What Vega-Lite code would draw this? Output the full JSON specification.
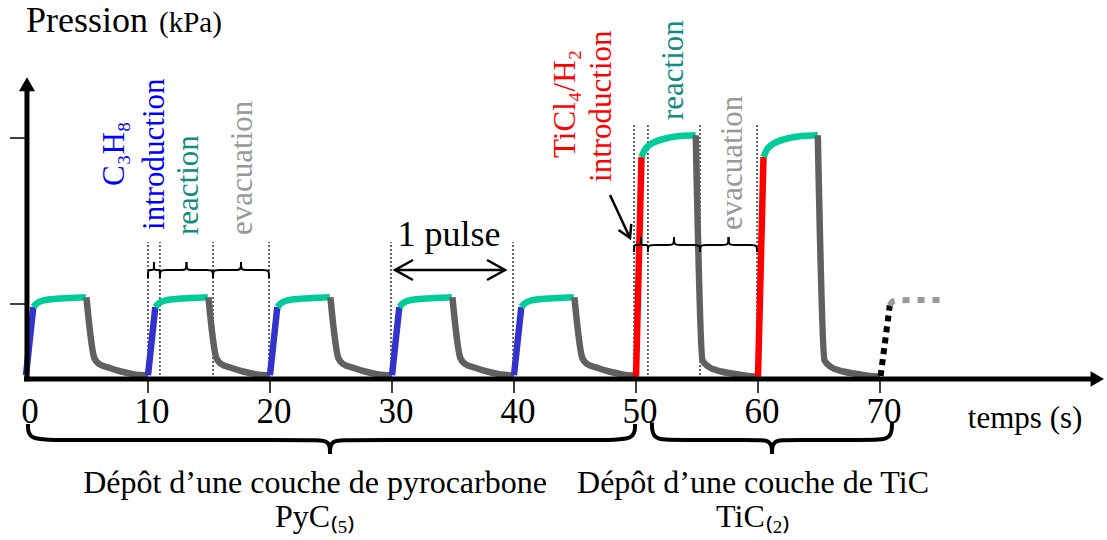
{
  "$schema": "https://vega.github.io/schema/vega-lite/v6.json",
  "width": 1107,
  "height": 540,
  "autosize": {"type": "fit", "contains": "padding"},
  "padding": 0,
  "background": "white",
  "config": {"view": {"stroke": null}, "text": {"font": "Liberation Serif"}},
  "encoding": {
    "x": {"field": "t", "type": "quantitative", "scale": {"domain": [-2.1311, 88.6066], "nice": false, "zero": false}, "axis": null},
    "y": {"field": "y", "type": "quantitative", "scale": {"domain": [-2.1467, 5.0533], "nice": false, "zero": false}, "axis": null}
  },
  "layer": [
    {
      "data": {"values": [
        {"t": 10.0, "y": 0, "y2": 1.827}, {"t": 10.98, "y": 0, "y2": 1.827}, {"t": 15.33, "y": 0, "y2": 1.827}, {"t": 19.92, "y": 0, "y2": 1.827},
        {"t": 29.92, "y": 0, "y2": 1.827}, {"t": 39.92, "y": 0, "y2": 1.827},
        {"t": 49.84, "y": 0, "y2": 3.413}, {"t": 50.98, "y": 0, "y2": 3.413}, {"t": 55.25, "y": 0, "y2": 3.413}, {"t": 59.92, "y": 0, "y2": 3.413}
      ]},
      "mark": {"type": "rule", "color": "black", "strokeWidth": 1.2, "strokeDash": [2, 2]},
      "encoding": {"y2": {"field": "y2"}}
    },
    {
      "data": {"values": [
        {"seg": "b0", "ph": "C3H8", "i": 0, "t": 0, "y": 0.05}, {"seg": "b0", "ph": "C3H8", "i": 1, "t": 0.6, "y": 0.96},
        {"seg": "g0", "ph": "reaction", "i": 0, "t": 0.6, "y": 0.96}, {"seg": "g0", "ph": "reaction", "i": 1, "t": 0.9, "y": 1.01}, {"seg": "g0", "ph": "reaction", "i": 2, "t": 1.5, "y": 1.05}, {"seg": "g0", "ph": "reaction", "i": 3, "t": 2.5, "y": 1.07}, {"seg": "g0", "ph": "reaction", "i": 4, "t": 3.5, "y": 1.08}, {"seg": "g0", "ph": "reaction", "i": 5, "t": 4.9, "y": 1.09},
        {"seg": "k0", "ph": "evacuation", "i": 0, "t": 4.95, "y": 1.09}, {"seg": "k0", "ph": "evacuation", "i": 1, "t": 5.6, "y": 0.28}, {"seg": "k0", "ph": "evacuation", "i": 2, "t": 6.0, "y": 0.2}, {"seg": "k0", "ph": "evacuation", "i": 3, "t": 6.8, "y": 0.15}, {"seg": "k0", "ph": "evacuation", "i": 4, "t": 7.8, "y": 0.1}, {"seg": "k0", "ph": "evacuation", "i": 5, "t": 8.8, "y": 0.065}, {"seg": "k0", "ph": "evacuation", "i": 6, "t": 10, "y": 0.045},

        {"seg": "b1", "ph": "C3H8", "i": 0, "t": 10, "y": 0.05}, {"seg": "b1", "ph": "C3H8", "i": 1, "t": 10.6, "y": 0.96},
        {"seg": "g1", "ph": "reaction", "i": 0, "t": 10.6, "y": 0.96}, {"seg": "g1", "ph": "reaction", "i": 1, "t": 10.9, "y": 1.01}, {"seg": "g1", "ph": "reaction", "i": 2, "t": 11.5, "y": 1.05}, {"seg": "g1", "ph": "reaction", "i": 3, "t": 12.5, "y": 1.07}, {"seg": "g1", "ph": "reaction", "i": 4, "t": 13.5, "y": 1.08}, {"seg": "g1", "ph": "reaction", "i": 5, "t": 14.9, "y": 1.09},
        {"seg": "k1", "ph": "evacuation", "i": 0, "t": 14.95, "y": 1.09}, {"seg": "k1", "ph": "evacuation", "i": 1, "t": 15.6, "y": 0.28}, {"seg": "k1", "ph": "evacuation", "i": 2, "t": 16.0, "y": 0.2}, {"seg": "k1", "ph": "evacuation", "i": 3, "t": 16.8, "y": 0.15}, {"seg": "k1", "ph": "evacuation", "i": 4, "t": 17.8, "y": 0.1}, {"seg": "k1", "ph": "evacuation", "i": 5, "t": 18.8, "y": 0.065}, {"seg": "k1", "ph": "evacuation", "i": 6, "t": 20, "y": 0.045},

        {"seg": "b2", "ph": "C3H8", "i": 0, "t": 20, "y": 0.05}, {"seg": "b2", "ph": "C3H8", "i": 1, "t": 20.6, "y": 0.96},
        {"seg": "g2", "ph": "reaction", "i": 0, "t": 20.6, "y": 0.96}, {"seg": "g2", "ph": "reaction", "i": 1, "t": 20.9, "y": 1.01}, {"seg": "g2", "ph": "reaction", "i": 2, "t": 21.5, "y": 1.05}, {"seg": "g2", "ph": "reaction", "i": 3, "t": 22.5, "y": 1.07}, {"seg": "g2", "ph": "reaction", "i": 4, "t": 23.5, "y": 1.08}, {"seg": "g2", "ph": "reaction", "i": 5, "t": 24.9, "y": 1.09},
        {"seg": "k2", "ph": "evacuation", "i": 0, "t": 24.95, "y": 1.09}, {"seg": "k2", "ph": "evacuation", "i": 1, "t": 25.6, "y": 0.28}, {"seg": "k2", "ph": "evacuation", "i": 2, "t": 26.0, "y": 0.2}, {"seg": "k2", "ph": "evacuation", "i": 3, "t": 26.8, "y": 0.15}, {"seg": "k2", "ph": "evacuation", "i": 4, "t": 27.8, "y": 0.1}, {"seg": "k2", "ph": "evacuation", "i": 5, "t": 28.8, "y": 0.065}, {"seg": "k2", "ph": "evacuation", "i": 6, "t": 30, "y": 0.045},

        {"seg": "b3", "ph": "C3H8", "i": 0, "t": 30, "y": 0.05}, {"seg": "b3", "ph": "C3H8", "i": 1, "t": 30.6, "y": 0.96},
        {"seg": "g3", "ph": "reaction", "i": 0, "t": 30.6, "y": 0.96}, {"seg": "g3", "ph": "reaction", "i": 1, "t": 30.9, "y": 1.01}, {"seg": "g3", "ph": "reaction", "i": 2, "t": 31.5, "y": 1.05}, {"seg": "g3", "ph": "reaction", "i": 3, "t": 32.5, "y": 1.07}, {"seg": "g3", "ph": "reaction", "i": 4, "t": 33.5, "y": 1.08}, {"seg": "g3", "ph": "reaction", "i": 5, "t": 34.9, "y": 1.09},
        {"seg": "k3", "ph": "evacuation", "i": 0, "t": 34.95, "y": 1.09}, {"seg": "k3", "ph": "evacuation", "i": 1, "t": 35.6, "y": 0.28}, {"seg": "k3", "ph": "evacuation", "i": 2, "t": 36.0, "y": 0.2}, {"seg": "k3", "ph": "evacuation", "i": 3, "t": 36.8, "y": 0.15}, {"seg": "k3", "ph": "evacuation", "i": 4, "t": 37.8, "y": 0.1}, {"seg": "k3", "ph": "evacuation", "i": 5, "t": 38.8, "y": 0.065}, {"seg": "k3", "ph": "evacuation", "i": 6, "t": 40, "y": 0.045},

        {"seg": "b4", "ph": "C3H8", "i": 0, "t": 40, "y": 0.05}, {"seg": "b4", "ph": "C3H8", "i": 1, "t": 40.6, "y": 0.96},
        {"seg": "g4", "ph": "reaction", "i": 0, "t": 40.6, "y": 0.96}, {"seg": "g4", "ph": "reaction", "i": 1, "t": 40.9, "y": 1.01}, {"seg": "g4", "ph": "reaction", "i": 2, "t": 41.5, "y": 1.05}, {"seg": "g4", "ph": "reaction", "i": 3, "t": 42.5, "y": 1.07}, {"seg": "g4", "ph": "reaction", "i": 4, "t": 43.5, "y": 1.08}, {"seg": "g4", "ph": "reaction", "i": 5, "t": 44.9, "y": 1.09},
        {"seg": "k4", "ph": "evacuation", "i": 0, "t": 44.95, "y": 1.09}, {"seg": "k4", "ph": "evacuation", "i": 1, "t": 45.6, "y": 0.28}, {"seg": "k4", "ph": "evacuation", "i": 2, "t": 46.0, "y": 0.2}, {"seg": "k4", "ph": "evacuation", "i": 3, "t": 46.8, "y": 0.15}, {"seg": "k4", "ph": "evacuation", "i": 4, "t": 47.8, "y": 0.1}, {"seg": "k4", "ph": "evacuation", "i": 5, "t": 48.8, "y": 0.065}, {"seg": "k4", "ph": "evacuation", "i": 6, "t": 50, "y": 0.04},

        {"seg": "r5", "ph": "TiCl4", "i": 0, "t": 50, "y": 0.03}, {"seg": "r5", "ph": "TiCl4", "i": 1, "t": 50.45, "y": 2.96},
        {"seg": "g5", "ph": "reaction", "i": 0, "t": 50.45, "y": 2.96}, {"seg": "g5", "ph": "reaction", "i": 1, "t": 50.7, "y": 3.05}, {"seg": "g5", "ph": "reaction", "i": 2, "t": 51.1, "y": 3.12}, {"seg": "g5", "ph": "reaction", "i": 3, "t": 52.5, "y": 3.21}, {"seg": "g5", "ph": "reaction", "i": 4, "t": 53.7, "y": 3.24}, {"seg": "g5", "ph": "reaction", "i": 5, "t": 54.9, "y": 3.25},
        {"seg": "k5", "ph": "evacuation", "i": 0, "t": 54.9, "y": 3.25}, {"seg": "k5", "ph": "evacuation", "i": 1, "t": 55.45, "y": 0.25}, {"seg": "k5", "ph": "evacuation", "i": 2, "t": 55.9, "y": 0.17}, {"seg": "k5", "ph": "evacuation", "i": 3, "t": 57.0, "y": 0.1}, {"seg": "k5", "ph": "evacuation", "i": 4, "t": 58.0, "y": 0.07}, {"seg": "k5", "ph": "evacuation", "i": 5, "t": 59.0, "y": 0.045}, {"seg": "k5", "ph": "evacuation", "i": 6, "t": 60, "y": 0.03},

        {"seg": "r6", "ph": "TiCl4", "i": 0, "t": 60, "y": 0.03}, {"seg": "r6", "ph": "TiCl4", "i": 1, "t": 60.45, "y": 2.96},
        {"seg": "g6", "ph": "reaction", "i": 0, "t": 60.45, "y": 2.96}, {"seg": "g6", "ph": "reaction", "i": 1, "t": 60.7, "y": 3.05}, {"seg": "g6", "ph": "reaction", "i": 2, "t": 61.1, "y": 3.12}, {"seg": "g6", "ph": "reaction", "i": 3, "t": 62.5, "y": 3.21}, {"seg": "g6", "ph": "reaction", "i": 4, "t": 63.7, "y": 3.24}, {"seg": "g6", "ph": "reaction", "i": 5, "t": 64.9, "y": 3.25},
        {"seg": "k6", "ph": "evacuation", "i": 0, "t": 64.9, "y": 3.25}, {"seg": "k6", "ph": "evacuation", "i": 1, "t": 65.45, "y": 0.25}, {"seg": "k6", "ph": "evacuation", "i": 2, "t": 65.9, "y": 0.17}, {"seg": "k6", "ph": "evacuation", "i": 3, "t": 67.0, "y": 0.1}, {"seg": "k6", "ph": "evacuation", "i": 4, "t": 68.0, "y": 0.07}, {"seg": "k6", "ph": "evacuation", "i": 5, "t": 69.0, "y": 0.045}, {"seg": "k6", "ph": "evacuation", "i": 6, "t": 70, "y": 0.03}
      ]},
      "mark": {"type": "line", "interpolate": "monotone", "strokeWidth": 6.5, "strokeCap": "butt"},
      "encoding": {
        "color": {"field": "ph", "type": "nominal", "scale": {"domain": ["C3H8", "reaction", "evacuation", "TiCl4"], "range": ["#3333CC", "#00CC99", "#606060", "#FF0000"]}, "legend": null},
        "detail": {"field": "seg"},
        "order": {"field": "i", "type": "quantitative"}
      }
    },
    {
      "data": {"values": [
        {"i": 0, "t": 70.05, "y": 0.04}, {"i": 1, "t": 70.8, "y": 0.98}
      ]},
      "mark": {"type": "line", "color": "black", "strokeWidth": 6, "strokeDash": [6, 5], "strokeCap": "butt"},
      "encoding": {"order": {"field": "i", "type": "quantitative"}}
    },
    {
      "data": {"values": [
        {"i": 0, "t": 70.8, "y": 0.98}, {"i": 1, "t": 71.05, "y": 1.035}, {"i": 2, "t": 71.6, "y": 1.05}, {"i": 3, "t": 75.4, "y": 1.055}
      ]},
      "mark": {"type": "line", "color": "#999999", "strokeWidth": 6, "strokeDash": [7, 8], "strokeCap": "butt", "interpolate": "monotone"},
      "encoding": {"order": {"field": "i", "type": "quantitative"}}
    },
    {
      "data": {"values": [
        {"seg": "aL", "i": 0, "t": 10.0, "y": 1.347}, {"seg": "aL", "i": 1, "t": 10.0, "y": 1.453}, {"seg": "aL", "i": 2, "t": 10.12, "y": 1.453}, {"seg": "aL", "i": 3, "t": 10.37, "y": 1.453}, {"seg": "aL", "i": 4, "t": 10.49, "y": 1.453}, {"seg": "aL", "i": 5, "t": 10.49, "y": 1.56},
        {"seg": "aR", "i": 0, "t": 10.49, "y": 1.56}, {"seg": "aR", "i": 1, "t": 10.49, "y": 1.453}, {"seg": "aR", "i": 2, "t": 10.61, "y": 1.453}, {"seg": "aR", "i": 3, "t": 10.86, "y": 1.453}, {"seg": "aR", "i": 4, "t": 10.98, "y": 1.453}, {"seg": "aR", "i": 5, "t": 10.98, "y": 1.347},
        {"seg": "bL", "i": 0, "t": 10.98, "y": 1.347}, {"seg": "bL", "i": 1, "t": 10.98, "y": 1.453}, {"seg": "bL", "i": 2, "t": 11.33, "y": 1.453}, {"seg": "bL", "i": 3, "t": 12.805, "y": 1.453}, {"seg": "bL", "i": 4, "t": 13.155, "y": 1.453}, {"seg": "bL", "i": 5, "t": 13.155, "y": 1.56},
        {"seg": "bR", "i": 0, "t": 13.155, "y": 1.56}, {"seg": "bR", "i": 1, "t": 13.155, "y": 1.453}, {"seg": "bR", "i": 2, "t": 13.505, "y": 1.453}, {"seg": "bR", "i": 3, "t": 14.98, "y": 1.453}, {"seg": "bR", "i": 4, "t": 15.33, "y": 1.453}, {"seg": "bR", "i": 5, "t": 15.33, "y": 1.347},
        {"seg": "cL", "i": 0, "t": 15.33, "y": 1.347}, {"seg": "cL", "i": 1, "t": 15.33, "y": 1.453}, {"seg": "cL", "i": 2, "t": 15.68, "y": 1.453}, {"seg": "cL", "i": 3, "t": 17.275, "y": 1.453}, {"seg": "cL", "i": 4, "t": 17.625, "y": 1.453}, {"seg": "cL", "i": 5, "t": 17.625, "y": 1.56},
        {"seg": "cR", "i": 0, "t": 17.625, "y": 1.56}, {"seg": "cR", "i": 1, "t": 17.625, "y": 1.453}, {"seg": "cR", "i": 2, "t": 17.975, "y": 1.453}, {"seg": "cR", "i": 3, "t": 19.57, "y": 1.453}, {"seg": "cR", "i": 4, "t": 19.92, "y": 1.453}, {"seg": "cR", "i": 5, "t": 19.92, "y": 1.347},
        {"seg": "dL", "i": 0, "t": 49.84, "y": 1.693}, {"seg": "dL", "i": 1, "t": 49.84, "y": 1.787}, {"seg": "dL", "i": 2, "t": 49.96, "y": 1.787}, {"seg": "dL", "i": 3, "t": 50.29, "y": 1.787}, {"seg": "dL", "i": 4, "t": 50.41, "y": 1.787}, {"seg": "dL", "i": 5, "t": 50.41, "y": 1.893},
        {"seg": "dR", "i": 0, "t": 50.41, "y": 1.893}, {"seg": "dR", "i": 1, "t": 50.41, "y": 1.787}, {"seg": "dR", "i": 2, "t": 50.53, "y": 1.787}, {"seg": "dR", "i": 3, "t": 50.86, "y": 1.787}, {"seg": "dR", "i": 4, "t": 50.98, "y": 1.787}, {"seg": "dR", "i": 5, "t": 50.98, "y": 1.693},
        {"seg": "eL", "i": 0, "t": 50.98, "y": 1.693}, {"seg": "eL", "i": 1, "t": 50.98, "y": 1.787}, {"seg": "eL", "i": 2, "t": 51.33, "y": 1.787}, {"seg": "eL", "i": 3, "t": 52.765, "y": 1.787}, {"seg": "eL", "i": 4, "t": 53.115, "y": 1.787}, {"seg": "eL", "i": 5, "t": 53.115, "y": 1.893},
        {"seg": "eR", "i": 0, "t": 53.115, "y": 1.893}, {"seg": "eR", "i": 1, "t": 53.115, "y": 1.787}, {"seg": "eR", "i": 2, "t": 53.465, "y": 1.787}, {"seg": "eR", "i": 3, "t": 54.9, "y": 1.787}, {"seg": "eR", "i": 4, "t": 55.25, "y": 1.787}, {"seg": "eR", "i": 5, "t": 55.25, "y": 1.693},
        {"seg": "fL", "i": 0, "t": 55.25, "y": 1.693}, {"seg": "fL", "i": 1, "t": 55.25, "y": 1.787}, {"seg": "fL", "i": 2, "t": 55.6, "y": 1.787}, {"seg": "fL", "i": 3, "t": 57.235, "y": 1.787}, {"seg": "fL", "i": 4, "t": 57.585, "y": 1.787}, {"seg": "fL", "i": 5, "t": 57.585, "y": 1.893},
        {"seg": "fR", "i": 0, "t": 57.585, "y": 1.893}, {"seg": "fR", "i": 1, "t": 57.585, "y": 1.787}, {"seg": "fR", "i": 2, "t": 57.935, "y": 1.787}, {"seg": "fR", "i": 3, "t": 59.57, "y": 1.787}, {"seg": "fR", "i": 4, "t": 59.92, "y": 1.787}, {"seg": "fR", "i": 5, "t": 59.92, "y": 1.693}
      ]},
      "mark": {"type": "line", "color": "black", "strokeWidth": 2, "interpolate": "basis"},
      "encoding": {"detail": {"field": "seg"}, "order": {"field": "i", "type": "quantitative"}}
    },
    {
      "data": {"values": [
        {"seg": "pL", "i": 0, "t": 0.16, "y": -0.6}, {"seg": "pL", "i": 1, "t": 0.16, "y": -0.813}, {"seg": "pL", "i": 2, "t": 2.66, "y": -0.813}, {"seg": "pL", "i": 3, "t": 23.42, "y": -0.813}, {"seg": "pL", "i": 4, "t": 24.92, "y": -0.813}, {"seg": "pL", "i": 5, "t": 24.92, "y": -1.0},
        {"seg": "pR", "i": 0, "t": 24.92, "y": -1.0}, {"seg": "pR", "i": 1, "t": 24.92, "y": -0.813}, {"seg": "pR", "i": 2, "t": 26.42, "y": -0.813}, {"seg": "pR", "i": 3, "t": 47.42, "y": -0.813}, {"seg": "pR", "i": 4, "t": 49.92, "y": -0.813}, {"seg": "pR", "i": 5, "t": 49.92, "y": -0.6},
        {"seg": "tL", "i": 0, "t": 51.31, "y": -0.58}, {"seg": "tL", "i": 1, "t": 51.31, "y": -0.813}, {"seg": "tL", "i": 2, "t": 53.31, "y": -0.813}, {"seg": "tL", "i": 3, "t": 59.65, "y": -0.813}, {"seg": "tL", "i": 4, "t": 61.15, "y": -0.813}, {"seg": "tL", "i": 5, "t": 61.15, "y": -1.0},
        {"seg": "tR", "i": 0, "t": 61.15, "y": -1.0}, {"seg": "tR", "i": 1, "t": 61.15, "y": -0.813}, {"seg": "tR", "i": 2, "t": 62.65, "y": -0.813}, {"seg": "tR", "i": 3, "t": 68.98, "y": -0.813}, {"seg": "tR", "i": 4, "t": 70.98, "y": -0.813}, {"seg": "tR", "i": 5, "t": 70.98, "y": -0.58}
      ]},
      "mark": {"type": "line", "color": "black", "strokeWidth": 4, "interpolate": "basis"},
      "encoding": {"detail": {"field": "seg"}, "order": {"field": "i", "type": "quantitative"}}
    },
    {
      "data": {"values": [
        {"seg": "shaft", "i": 0, "t": 30.25, "y": 1.453}, {"seg": "shaft", "i": 1, "t": 39.26, "y": 1.453},
        {"seg": "hl", "i": 0, "t": 31.72, "y": 1.587}, {"seg": "hl", "i": 1, "t": 30.25, "y": 1.453}, {"seg": "hl", "i": 2, "t": 31.72, "y": 1.32},
        {"seg": "hr", "i": 0, "t": 37.79, "y": 1.587}, {"seg": "hr", "i": 1, "t": 39.26, "y": 1.453}, {"seg": "hr", "i": 2, "t": 37.79, "y": 1.32},
        {"seg": "ti", "i": 0, "t": 47.87, "y": 2.453}, {"seg": "ti", "i": 1, "t": 49.51, "y": 1.88},
        {"seg": "th", "i": 0, "t": 48.57, "y": 1.988}, {"seg": "th", "i": 1, "t": 49.51, "y": 1.88}, {"seg": "th", "i": 2, "t": 49.61, "y": 2.067}
      ]},
      "mark": {"type": "line", "color": "black", "strokeWidth": 2.5},
      "encoding": {"detail": {"field": "seg"}, "order": {"field": "i", "type": "quantitative"}}
    },
    {
      "data": {"values": [{"t": -0.16, "t2": 87.4, "y": 0}]},
      "mark": {"type": "rule", "color": "black", "strokeWidth": 5},
      "encoding": {"x2": {"field": "t2"}}
    },
    {
      "data": {"values": [{"t": 0.08, "y": -0.03, "y2": 3.85}]},
      "mark": {"type": "rule", "color": "black", "strokeWidth": 5},
      "encoding": {"y2": {"field": "y2"}}
    },
    {
      "data": {"values": [{"t": 87.81, "y": 0}]},
      "mark": {"type": "point", "shape": "triangle-right", "filled": true, "size": 240, "color": "black", "opacity": 1}
    },
    {
      "data": {"values": [{"t": 0.08, "y": 3.93}]},
      "mark": {"type": "point", "shape": "triangle-up", "filled": true, "size": 260, "color": "black", "opacity": 1}
    },
    {
      "data": {"values": [
        {"t": 10, "y": 0, "y2": -0.187}, {"t": 20, "y": 0, "y2": -0.187}, {"t": 30, "y": 0, "y2": -0.187}, {"t": 40, "y": 0, "y2": -0.187},
        {"t": 50, "y": 0, "y2": -0.187}, {"t": 60, "y": 0, "y2": -0.187}, {"t": 70, "y": 0, "y2": -0.187}
      ]},
      "mark": {"type": "rule", "color": "black", "strokeWidth": 1.5},
      "encoding": {"y2": {"field": "y2"}}
    },
    {
      "data": {"values": [{"t": -1.31, "t2": 0.08, "y": 1}, {"t": -1.31, "t2": 0.08, "y": 3.213}]},
      "mark": {"type": "rule", "color": "black", "strokeWidth": 1.5},
      "encoding": {"x2": {"field": "t2"}}
    },
    {
      "data": {"values": [{"t": 0, "y": 4.627, "label": "Pression"}]},
      "mark": {"type": "text", "align": "left", "baseline": "alphabetic", "fontSize": 36, "color": "black"},
      "encoding": {"text": {"field": "label"}}
    },
    {
      "data": {"values": [{"t": 10.9, "y": 4.627, "label": "(kPa)"}]},
      "mark": {"type": "text", "align": "left", "baseline": "alphabetic", "fontSize": 29, "color": "black"},
      "encoding": {"text": {"field": "label"}}
    },
    {
      "data": {"values": [
        {"t": 0, "y": -0.587, "label": "0"}, {"t": 10, "y": -0.587, "label": "10"}, {"t": 20, "y": -0.587, "label": "20"}, {"t": 30, "y": -0.587, "label": "30"},
        {"t": 40, "y": -0.587, "label": "40"}, {"t": 50, "y": -0.587, "label": "50"}, {"t": 60, "y": -0.587, "label": "60"}, {"t": 70, "y": -0.587, "label": "70"}
      ]},
      "mark": {"type": "text", "align": "center", "baseline": "alphabetic", "fontSize": 35, "dx": 4, "color": "black"},
      "encoding": {"text": {"field": "label"}}
    },
    {
      "data": {"values": [{"t": 77.2, "y": -0.653, "label": "temps (s)"}]},
      "mark": {"type": "text", "align": "left", "baseline": "alphabetic", "fontSize": 31, "color": "black"},
      "encoding": {"text": {"field": "label"}}
    },
    {
      "data": {"values": [{"t": 34.67, "y": 1.773, "label": "1 pulse"}]},
      "mark": {"type": "text", "align": "center", "baseline": "alphabetic", "fontSize": 36, "color": "black"},
      "encoding": {"text": {"field": "label"}}
    },
    {
      "data": {"values": [
        {"t": 23.69, "y": -1.52, "label": "Dépôt d’une couche de pyrocarbone"},
        {"t": 23.69, "y": -1.973, "label": "PyC₍₅₎"},
        {"t": 59.59, "y": -1.52, "label": "Dépôt d’une couche de TiC"},
        {"t": 59.59, "y": -1.973, "label": "TiC₍₂₎"}
      ]},
      "mark": {"type": "text", "align": "center", "baseline": "alphabetic", "fontSize": 32, "color": "black"},
      "encoding": {"text": {"field": "label"}}
    },
    {
      "data": {"values": [{"t": 7.3, "y": 2.573, "label": "C₃H₈"}, {"t": 10.6, "y": 1.987, "label": "introduction"}]},
      "mark": {"type": "text", "align": "left", "baseline": "middle", "angle": 270, "fontSize": 31, "color": "#0000FF"},
      "encoding": {"text": {"field": "label"}}
    },
    {
      "data": {"values": [{"t": 13.4, "y": 1.92, "label": "reaction"}, {"t": 53.1, "y": 3.453, "label": "reaction"}]},
      "mark": {"type": "text", "align": "left", "baseline": "middle", "angle": 270, "fontSize": 31, "color": "#118C82"},
      "encoding": {"text": {"field": "label"}}
    },
    {
      "data": {"values": [{"t": 17.79, "y": 1.92, "label": "evacuation"}, {"t": 57.95, "y": 1.987, "label": "evacuation"}]},
      "mark": {"type": "text", "align": "left", "baseline": "middle", "angle": 270, "fontSize": 31, "color": "#999999"},
      "encoding": {"text": {"field": "label"}}
    },
    {
      "data": {"values": [{"t": 44.26, "y": 2.947, "label": "TiCl₄/H₂"}, {"t": 47.21, "y": 2.627, "label": "introduction"}]},
      "mark": {"type": "text", "align": "left", "baseline": "middle", "angle": 270, "fontSize": 31, "color": "#FF0000"},
      "encoding": {"text": {"field": "label"}}
    }
  ]
}
